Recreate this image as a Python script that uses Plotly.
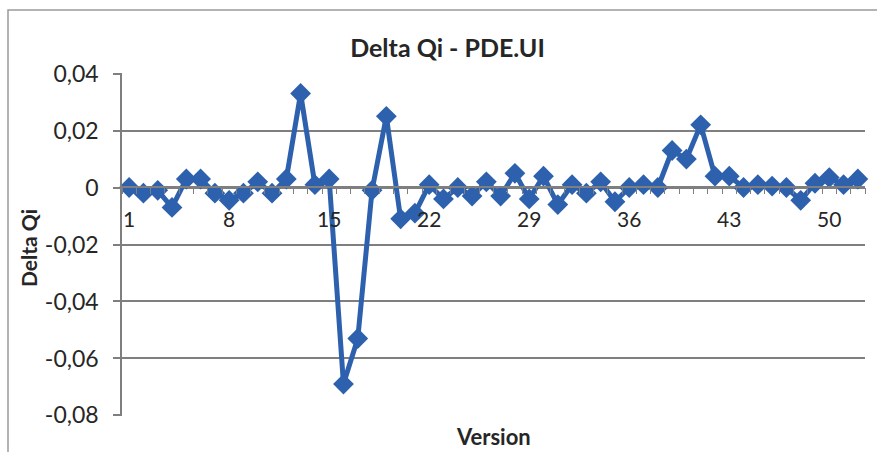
import plotly.graph_objects as go

# Version index and the change of Qi between consecutive versions
versions = list(range(1, 53))
delta_qi = [
    0.000, -0.002, -0.001, -0.007, 0.003, 0.003, -0.002, -0.0045, -0.002, 0.002,
    -0.002, 0.003, 0.033, 0.001, 0.003, -0.069, -0.053, -0.001, 0.025, -0.011,
    -0.009, 0.001, -0.004, 0.000, -0.003, 0.002, -0.003, 0.005, -0.004, 0.004,
    -0.006, 0.001, -0.002, 0.002, -0.005, 0.000, 0.001, 0.000, 0.013, 0.010,
    0.022, 0.004, 0.004, 0.000, 0.001, 0.0005, 0.000, -0.0045, 0.0015, 0.0035,
    0.001, 0.003,
]

x_tick_vals = [1, 8, 15, 22, 29, 36, 43, 50]
x_tick_text = ["1", "8", "15", "22", "29", "36", "43", "50"]
y_tick_vals = [0.04, 0.02, 0.0, -0.02, -0.04, -0.06, -0.08]
y_tick_text = ["0,04", "0,02", "0", "-0,02", "-0,04", "-0,06", "-0,08"]

title_text = "Delta Qi - PDE.UI"
x_title = "Version"
y_title = "Delta Qi"

FONT = "Lato, 'Open Sans', sans-serif"
BLUE = "#2D61AD"
GRID = "#7f7f7f"
TEXT = "#262626"

W, H = 877, 452
L, R, T, B = 122, 12, 73, 36
pw, ph = W - L - R, H - T - B
y_min, y_max = -0.08, 0.04

fig = go.Figure()
fig.add_trace(go.Scatter(
    x=versions, y=delta_qi, mode="lines+markers",
    line=dict(color=BLUE, width=5),
    marker=dict(symbol="diamond", size=16, color=BLUE),
    showlegend=False, cliponaxis=False,
))

fig.update_layout(
    width=W, height=H,
    margin=dict(l=L, r=R, t=T, b=B),
    paper_bgcolor="white", plot_bgcolor="white",
    font=dict(family=FONT, size=21, color=TEXT),
    title=dict(text=title_text, xref="container", yref="container",
               x=447.5 / W, y=1 - 48 / H, xanchor="center", yanchor="middle",
               font=dict(family=FONT, size=25, color=TEXT, weight="bold")),
    xaxis=dict(
        range=[0.5, 52.5], anchor="free",
        position=(0 - y_min) / (y_max - y_min),
        showgrid=False, zeroline=False,
        showline=True, linecolor=GRID, linewidth=1.5,
        tickmode="array", tickvals=x_tick_vals, ticktext=x_tick_text,
        ticks="", ticklabelstandoff=14,
        minor=dict(tick0=0.5, dtick=1, ticks="outside", ticklen=6,
                   tickcolor=GRID, tickwidth=1.2, showgrid=False),
        tickfont=dict(family=FONT, size=21, color=TEXT),
    ),
    yaxis=dict(
        range=[y_min - 0.0002, y_max + 0.0002],
        showgrid=True, gridcolor=GRID, gridwidth=1.5, zeroline=False,
        showline=True, linecolor=GRID, linewidth=1.5,
        tickmode="array", tickvals=y_tick_vals, ticktext=y_tick_text,
        ticks="outside", ticklen=7, tickcolor=GRID, tickwidth=1.5,
        ticklabelstandoff=10,
        tickfont=dict(family=FONT, size=23, color=TEXT),
    ),
)

# Axis titles
fig.add_annotation(text=x_title, xref="paper", yref="paper",
                   x=0.5, y=(H - B - 436) / ph, xanchor="center", yanchor="middle",
                   showarrow=False, borderpad=0,
                   font=dict(family=FONT, size=22, color=TEXT, weight="bold"))
fig.add_annotation(text=y_title, xref="paper", yref="paper",
                   x=(28 - L) / pw, y=(H - B - 248) / ph, xanchor="center", yanchor="middle",
                   textangle=-90, showarrow=False,
                   font=dict(family=FONT, size=21, color=TEXT, weight="bold"))

# Chart-area border
fig.add_shape(type="rect", xref="paper", yref="paper",
              x0=(8 - L) / pw, x1=(W + 5 - L) / pw,
              y0=(H - B - (H + 5)) / ph, y1=(H - B - 10) / ph,
              line=dict(color="#9a9a9a", width=1.5), layer="below")

fig.write_html("out.html")
